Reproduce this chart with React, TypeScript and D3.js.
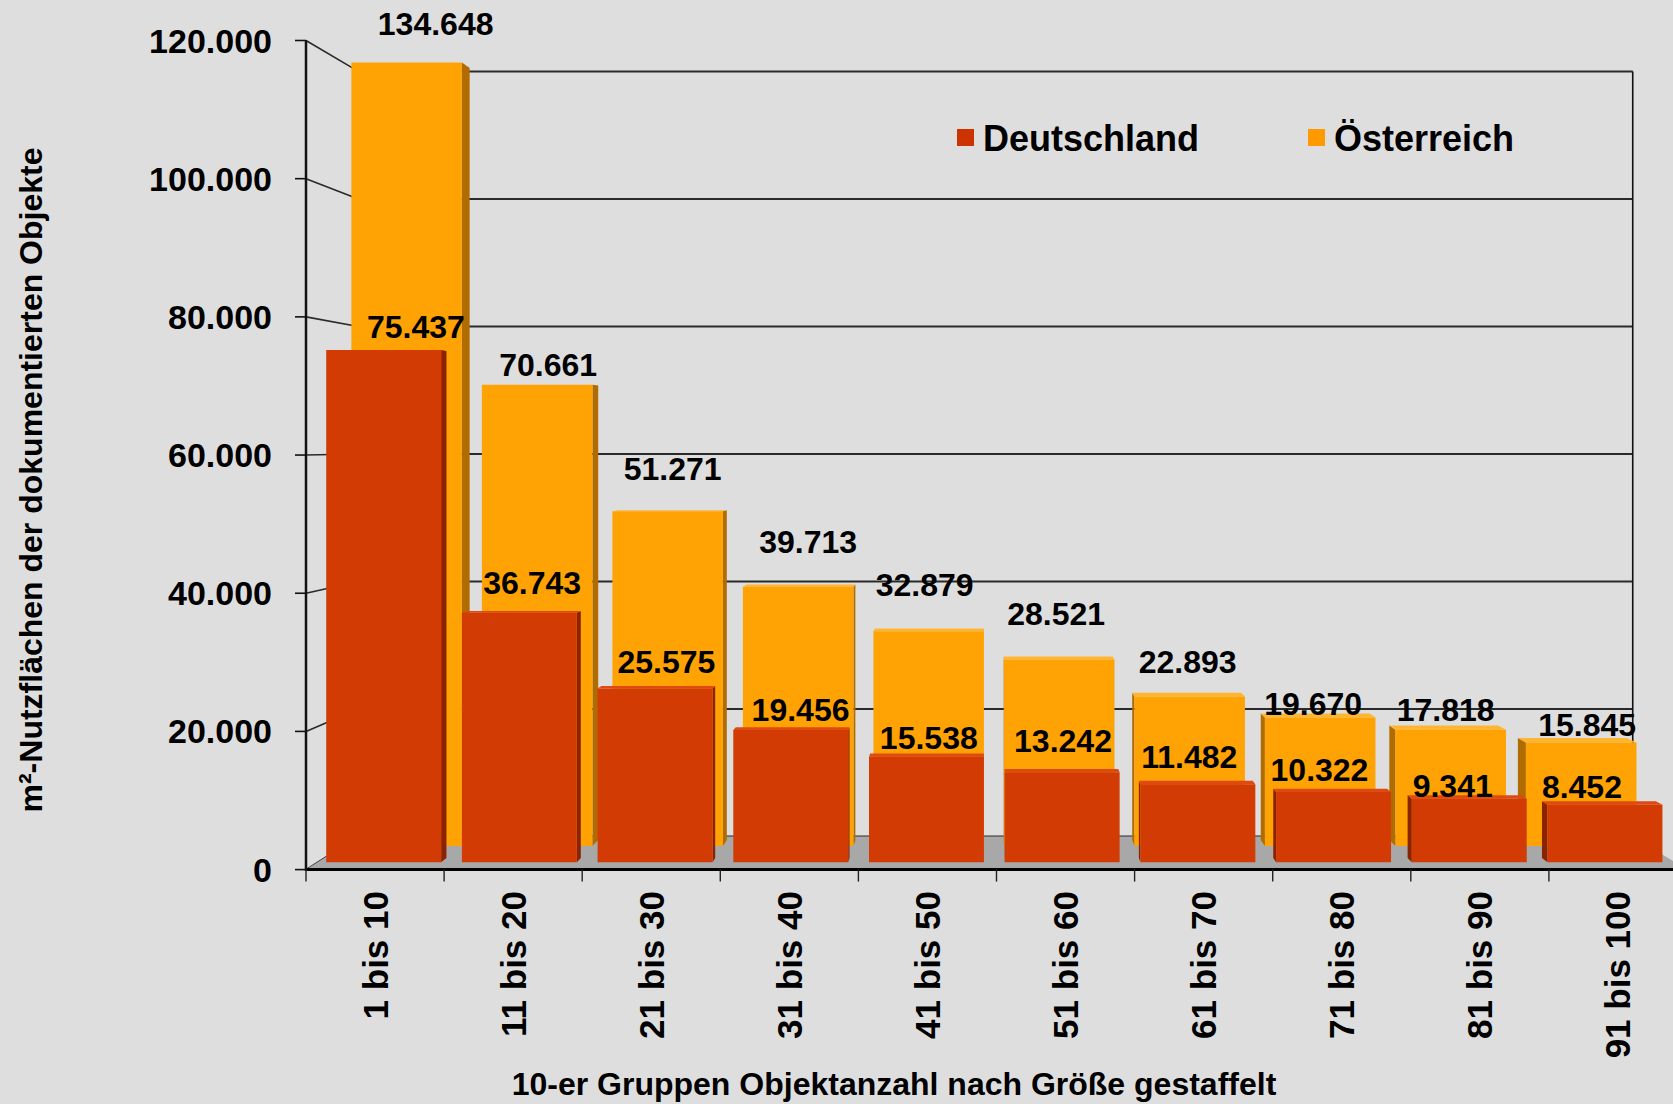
import React from 'react';
import * as d3 from 'd3';

const categories = ['1 bis 10', '11 bis 20', '21 bis 30', '31 bis 40', '41 bis 50', '51 bis 60', '61 bis 70', '71 bis 80', '81 bis 90', '91 bis 100'];
const deutschland = [75437, 36743, 25575, 19456, 15538, 13242, 11482, 10322, 9341, 8452];
const oesterreich = [134648, 70661, 51271, 39713, 32879, 28521, 22893, 19670, 17818, 15845];
const yTicks = [0, 20000, 40000, 60000, 80000, 100000, 120000];
const seriesNames = ['Deutschland', 'Österreich'];
// label nudges (px) as placed in the original chart
const deLabelLift = [12, 19, 16, 9, 8, 20, 16, 11, 2, 7];
const deLabelShift = [8, -6, -2, 2, 0, 4, 0, 0, 3, 2];
const atLabelLift = [28, 9, 31, 34, 35, 35, 24, 3, 9, 7];
const atLabelShift = [29, 11, 5, 10, -4, -3, -2, -7, -5, 6];

const W = 1673;
const H = 1104;
const CX = 984;
const CY = 440.7;
const K_WALL = 0.9228;
const K_DE: [number, number] = [0.9826, 0.973];
const K_AT: [number, number] = [0.945, 0.931];
const K_DE_LABEL = 0.943;
const FONT = "'Liberation Sans', Arial, Helvetica, sans-serif";

const C = {
  bg: '#DEDEDE',
  floor: '#A8A8A8',
  grid: '#2a2a2a',
  deFace: '#D23B04',
  deSide: '#8A2400',
  deTop: '#DE4A12',
  atFace: '#FFA305',
  atSide: '#B06C00',
  atTop: '#FFB52E',
  deLegend: '#CC3300',
  atLegend: '#FF9900',
};

const fmt = d3.formatLocale({ decimal: ',', thousands: '.', grouping: [3], currency: ['', '€'] }).format(',');

function proj(x: number, y: number, k: number): [number, number] {
  return [CX + (x - CX) * k, CY + (y - CY) * k];
}

type Face = { pts: [number, number][]; fill: string };

function box(x0: number, x1: number, yTop: number, yBot: number, k: [number, number], face: string, side: string, top: string): Face[] {
  const [kf, kb] = k;
  const faces: Face[] = [];
  if (x1 < CX) {
    faces.push({ pts: [proj(x1, yTop, kf), proj(x1, yTop, kb), proj(x1, yBot, kb), proj(x1, yBot, kf)], fill: side });
  }
  if (x0 > CX) {
    faces.push({ pts: [proj(x0, yTop, kf), proj(x0, yTop, kb), proj(x0, yBot, kb), proj(x0, yBot, kf)], fill: side });
  }
  if (yTop > CY) {
    faces.push({ pts: [proj(x0, yTop, kf), proj(x1, yTop, kf), proj(x1, yTop, kb), proj(x0, yTop, kb)], fill: top });
  }
  faces.push({ pts: [proj(x0, yTop, kf), proj(x1, yTop, kf), proj(x1, yBot, kf), proj(x0, yBot, kf)], fill: face });
  return faces;
}

const ptsStr = (p: [number, number][]) => p.map((q) => q[0].toFixed(2) + ',' + q[1].toFixed(2)).join(' ');

export default function App() {
  const x = d3.scaleBand<string>().domain(categories).range([306, 1687]).paddingInner(0).paddingOuter(0);
  const y = d3.scaleLinear().domain([0, 120000]).range([869.6, 40.5]);
  const bw = x.bandwidth();
  const xL = x.range()[0];
  const xR = x.range()[1];
  const y0 = y(0);
  const yMax = y.domain()[1];

  const barX0 = (c: string) => (x(c) as number) + bw * 0.062;
  const barX1 = (c: string) => (x(c) as number) + bw * 0.909;

  const floorPts: [number, number][] = [[xL, y0], [xR, y0], proj(xR, y0, K_WALL), proj(xL, y0, K_WALL)];

  const atFaces: Face[] = [];
  const deFaces: Face[] = [];
  categories.forEach((c, i) => {
    const vA = Math.min(oesterreich[i], yMax);
    atFaces.push(...box(barX0(c), barX1(c), y(vA), y0, K_AT, C.atFace, C.atSide, C.atTop));
    const vD = Math.min(deutschland[i], yMax);
    deFaces.push(...box(barX0(c), barX1(c), y(vD), y0, K_DE, C.deFace, C.deSide, C.deTop));
  });

  return (
    <svg width={W} height={H} viewBox={`0 0 ${W} ${H}`} style={{ position: 'absolute', left: 0, top: 0, background: C.bg }} fontFamily={FONT}>
      <rect x={0} y={0} width={W} height={H} fill={C.bg} />

      {/* back wall gridlines */}
      {yTicks.map((t) => {
        const a = proj(xL, y(t), K_WALL);
        const b = proj(xR, y(t), K_WALL);
        return <line key={'g' + t} x1={a[0]} y1={a[1]} x2={b[0]} y2={b[1]} stroke={C.grid} strokeWidth={2} />;
      })}
      {/* left wall gridlines */}
      {yTicks.map((t) => {
        const b = proj(xL, y(t), K_WALL);
        return <line key={'l' + t} x1={xL} y1={y(t)} x2={b[0]} y2={b[1]} stroke={C.grid} strokeWidth={1.6} />;
      })}
      {/* back wall right edge */}
      {(() => {
        const a = proj(xR, y(0), K_WALL);
        const b = proj(xR, y(yMax), K_WALL);
        return <line x1={a[0]} y1={a[1]} x2={b[0]} y2={b[1]} stroke="#111" strokeWidth={1.6} />;
      })()}

      {/* floor */}
      <polygon points={ptsStr(floorPts)} fill={C.floor} />

      {/* bars */}
      {atFaces.map((f, i) => <polygon key={'a' + i} points={ptsStr(f.pts)} fill={f.fill} />)}
      {deFaces.map((f, i) => <polygon key={'d' + i} points={ptsStr(f.pts)} fill={f.fill} />)}

      {/* front axis lines */}
      <line x1={xL} y1={y0} x2={W} y2={y0} stroke="#000" strokeWidth={3} />
      <line x1={xL} y1={y(yMax)} x2={xL} y2={y0 + 1.5} stroke="#111" strokeWidth={2.5} />
      {yTicks.map((t) => (
        <line key={'yt' + t} x1={xL - 11} y1={y(t)} x2={xL} y2={y(t)} stroke="#111" strokeWidth={1.6} />
      ))}
      {categories.map((c) => (
        <line key={'xt' + c} x1={x(c) as number} y1={y0} x2={x(c) as number} y2={y0 + 12} stroke="#222" strokeWidth={1.4} />
      ))}

      {/* y tick labels */}
      {yTicks.map((t) => (
        <text key={'yl' + t} x={272} y={y(t) + 12} textAnchor="end" fontSize={34} fontWeight="bold" fill="#000">
          {fmt(t)}
        </text>
      ))}

      {/* x tick labels */}
      {categories.map((c) => {
        const cxp = (x(c) as number) + bw / 2 + 12.5;
        return (
          <text key={'xl' + c} transform={`translate(${cxp},891) rotate(-90)`} textAnchor="end" fontSize={35} fontWeight="bold" fill="#000">
            {c}
          </text>
        );
      })}

      {/* data labels Österreich */}
      {categories.map((c, i) => {
        const mid = (barX0(c) + barX1(c)) / 2;
        const top = proj(mid, y(Math.min(oesterreich[i], yMax)), K_AT[0]);
        return (
          <text key={'la' + c} x={top[0] + atLabelShift[i]} y={top[1] - atLabelLift[i]} textAnchor="middle" fontSize={32} fontWeight="bold" fill="#000">
            {fmt(oesterreich[i])}
          </text>
        );
      })}
      {/* data labels Deutschland */}
      {categories.map((c, i) => {
        const mid = (barX0(c) + barX1(c)) / 2;
        const top = proj(mid, y(Math.min(deutschland[i], yMax)), K_DE[0]);
        const lx = proj(mid, y(0), K_DE_LABEL)[0] + deLabelShift[i];
        return (
          <text key={'ld' + c} x={lx} y={top[1] - deLabelLift[i]} textAnchor="middle" fontSize={32} fontWeight="bold" fill="#000">
            {fmt(deutschland[i])}
          </text>
        );
      })}

      {/* legend */}
      <rect x={957} y={129} width={17} height={17} fill={C.deLegend} />
      <text x={983} y={151} fontSize={36} fontWeight="bold" fill="#000">{seriesNames[0]}</text>
      <rect x={1308} y={129} width={17} height={17} fill={C.atLegend} />
      <text x={1334} y={151} fontSize={36} fontWeight="bold" fill="#000">{seriesNames[1]}</text>

      {/* axis titles */}
      <text x={894} y={1095} textAnchor="middle" fontSize={32} fontWeight="bold" fill="#000">
        10-er Gruppen Objektanzahl nach Größe gestaffelt
      </text>
      <text transform="translate(42,480) rotate(-90)" textAnchor="middle" fontSize={32} fontWeight="bold" fill="#000">
        m²-Nutzflächen der dokumentierten Objekte
      </text>
    </svg>
  );
}
